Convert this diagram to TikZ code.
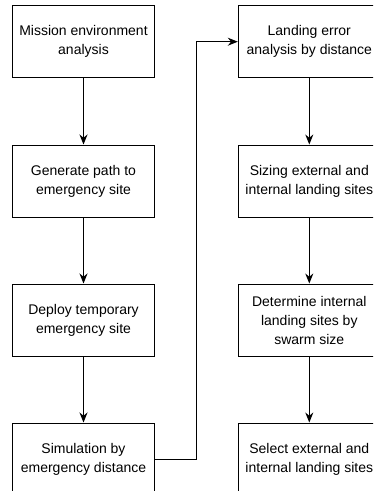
\documentclass[tikz,border=0pt]{standalone}
\usepackage{fontspec}
\setmainfont{Liberation Sans}
\usetikzlibrary{arrows.meta,positioning}

\begin{document}
\begin{tikzpicture}
		[x=1pt,y=1pt,line width=1pt,>={Stealth[length=10pt,width=8pt]},
		main node/.style={shape=rectangle,draw,fill=white,minimum width=142pt,minimum height=72pt,
			inner sep=0pt,align=center,font=\fontsize{14}{19}\selectfont}]
		\clip (0,0) rectangle (373,-491);
		
		\node [main node] (1) at (83.5,-41.7) {Mission environment\\analysis};
		\node [main node] (2) at (83.5,-181) {Generate path to\\emergency site};
		\node [main node] (3) at (83.5,-320) {Deploy temporary\\emergency site};
		\node [main node] (4) at (83.5,-459) {Simulation by\\emergency distance};
		
		\node [main node] (5) at (309.3,-41.7) {Landing error\\analysis by distance};
		\node [main node] (6) at (309.3,-181) {Sizing external and\\internal landing sites};
		\node [main node] (7) at (309.3,-320) {Determine internal\\landing sites by\\swarm size};
		\node [main node] (8) at (309.3,-459) {Select external and\\internal landing sites};
		
		\coordinate (bend) at (196.5,-459);
		
		\path[->]
		(1) edge (2)
		(2) edge (3)
		(3) edge (4)
		
		(5) edge (6)
		(6) edge (7)
		(7) edge (8)
		;
		
		\draw[->] (4.east) -- (bend) |- (5.west);
		
		\end{tikzpicture}
\end{document}
